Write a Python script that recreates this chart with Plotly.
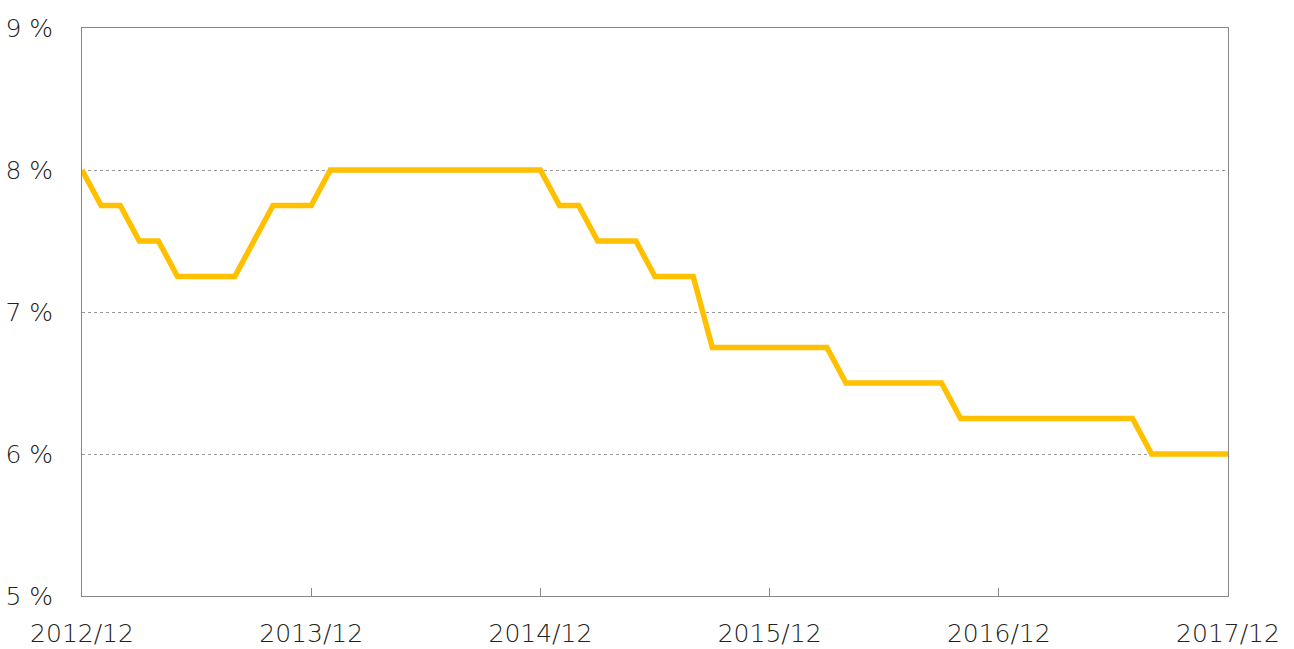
import plotly.graph_objects as go

months = []
y0, m0 = 2012, 12
for k in range(61):
    yy = y0 + (m0 - 1 + k) // 12
    mm = (m0 - 1 + k) % 12 + 1
    months.append(f"{yy}/{mm:02d}")

rate = [8.0, 7.75, 7.75, 7.5, 7.5, 7.25, 7.25, 7.25, 7.25, 7.5,
        7.75, 7.75, 7.75, 8.0, 8.0, 8.0, 8.0, 8.0, 8.0, 8.0,
        8.0, 8.0, 8.0, 8.0, 8.0, 7.75, 7.75, 7.5, 7.5, 7.5,
        7.25, 7.25, 7.25, 6.75, 6.75, 6.75, 6.75, 6.75, 6.75, 6.75,
        6.5, 6.5, 6.5, 6.5, 6.5, 6.5, 6.25, 6.25, 6.25, 6.25,
        6.25, 6.25, 6.25, 6.25, 6.25, 6.25, 6.0, 6.0, 6.0, 6.0, 6.0]

tick_labels = ["2012/12", "2013/12", "2014/12", "2015/12", "2016/12", "2017/12"]
y_ticks = [5, 6, 7, 8, 9]
y_tick_text = ["5 %", "6 %", "7 %", "8 %", "9 %"]

FONT = "DejaVu Sans ExtraLight, DejaVu Sans"
TICKFONT = dict(family=FONT, size=25, color="#222222", weight=200)

fig = go.Figure()
fig.add_trace(go.Scatter(
    x=months, y=rate, mode="lines",
    line=dict(color="#FFC000", width=5.5),
    hoverinfo="x+y", showlegend=False,
))

fig.update_layout(
    width=1294, height=649,
    margin=dict(l=82, r=66, t=28, b=53, autoexpand=False),
    paper_bgcolor="white", plot_bgcolor="white",
    font=dict(family=FONT, size=25, color="#222222"),
)
fig.update_xaxes(
    type="category", automargin=False,
    range=[0, len(months) - 1],
    tickmode="array", tickvals=tick_labels, ticktext=tick_labels,
    ticks="inside", ticklen=8, tickcolor="#888888", tickwidth=1,
    showgrid=False, zeroline=False,
    showline=True, linecolor="#888888", linewidth=1, mirror=True,
    ticklabelstandoff=15,
    tickfont=TICKFONT,
)
fig.update_yaxes(
    range=[5, 9], automargin=False,
    tickmode="array", tickvals=y_ticks, ticktext=y_tick_text,
    ticks="", showgrid=True, gridcolor="#999999", griddash="dot", gridwidth=1,
    zeroline=False,
    showline=True, linecolor="#888888", linewidth=1, mirror=True,
    ticklabelstandoff=23,
    tickfont=TICKFONT,
)

fig.write_html(
    "out.html",
    config={"displayModeBar": False},
    post_script="document.body.style.margin='0';document.body.style.overflow='hidden';",
)
